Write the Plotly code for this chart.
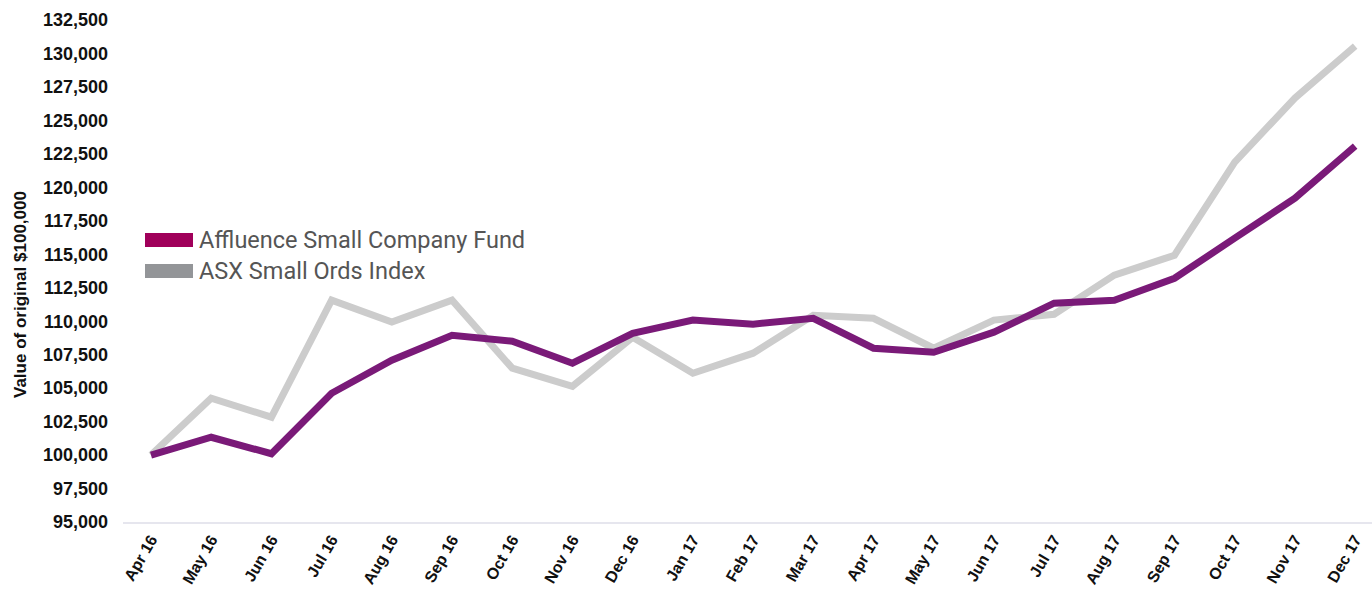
import plotly.graph_objects as go

months = ["Apr 16", "May 16", "Jun 16", "Jul 16", "Aug 16", "Sep 16", "Oct 16", "Nov 16",
          "Dec 16", "Jan 17", "Feb 17", "Mar 17", "Apr 17", "May 17", "Jun 17", "Jul 17",
          "Aug 17", "Sep 17", "Oct 17", "Nov 17", "Dec 17"]

fund = [100000, 101330, 100100, 104620, 107090, 108950, 108500, 106860,
        109100, 110080, 109780, 110220, 107980, 107680, 109180, 111350,
        111570, 113210, 116200, 119190, 123080]

index = [100000, 104250, 102830, 111570, 109930, 111570, 106490, 105140,
         108800, 106110, 107610, 110450, 110220, 107980, 110080, 110520,
         113440, 114930, 121880, 126670, 130550]

series_names = ["Affluence Small Company Fund", "ASX Small Ords Index"]
line_colors = ["#7A1A78", "#CCCCCC"]
legend_colors = ["#A0005A", "#939598"]

fig = go.Figure()
fig.add_trace(go.Scatter(x=months, y=index, mode="lines", name=series_names[1],
                         line=dict(color=line_colors[1], width=7), showlegend=False))
fig.add_trace(go.Scatter(x=months, y=fund, mode="lines", name=series_names[0],
                         line=dict(color=line_colors[0], width=7), showlegend=False))

W, H = 1372, 590
L, R, T, B = 123, 0, 20, 68
pw, ph = W - L - R, H - T - B

def px_x(x):
    return (x - L) / pw

def px_y(y):
    return (H - B - y) / ph

# custom legend
legend_rows = [(233, 247), (264, 278)]
for name, col, (y0, y1) in zip(series_names, legend_colors, legend_rows):
    fig.add_shape(type="rect", xref="paper", yref="paper",
                  x0=px_x(145), x1=px_x(193), y0=px_y(y1), y1=px_y(y0),
                  fillcolor=col, line=dict(width=0))
    fig.add_annotation(xref="paper", yref="paper", x=px_x(197), y=px_y((y0 + y1) / 2),
                       xanchor="left", yanchor="middle", showarrow=False, text=name,
                       font=dict(family="Roboto", size=23.5, color="#555555"))

fig.add_annotation(xref="paper", yref="paper", x=px_x(20), y=px_y(295),
                   xanchor="center", yanchor="middle", showarrow=False, textangle=-90,
                   text="<b>Value of original $100,000</b>",
                   font=dict(family="Arial, Liberation Sans", size=17, color="#111111"))

fig.update_layout(
    width=W, height=H,
    margin=dict(l=L, r=R, t=T, b=B, autoexpand=False),
    plot_bgcolor="white", paper_bgcolor="white",
    showlegend=False,
    font=dict(family="Arial, Liberation Sans", color="#111111"),
)
fig.update_xaxes(
    type="category", range=[-0.465, 20.28], automargin=False,
    showgrid=False, zeroline=False,
    showline=True, linecolor="#E6E6EE", linewidth=2,
    tickangle=-60, ticks="",
    tickfont=dict(family="Arial, Liberation Sans", size=16, color="#111111", weight="bold"),
)
fig.update_yaxes(
    range=[95000, 132500], dtick=2500, tick0=95000, tickformat=",.0f", automargin=False,
    showgrid=False, zeroline=False, showline=False,
    ticks="", ticklabelstandoff=14,
    tickfont=dict(family="Arial, Liberation Sans", size=18, color="#111111", weight="bold"),
)

fig.write_html("out.html", config={"displayModeBar": False},
               post_script="document.body.style.margin='0';document.body.style.overflow='hidden';")
